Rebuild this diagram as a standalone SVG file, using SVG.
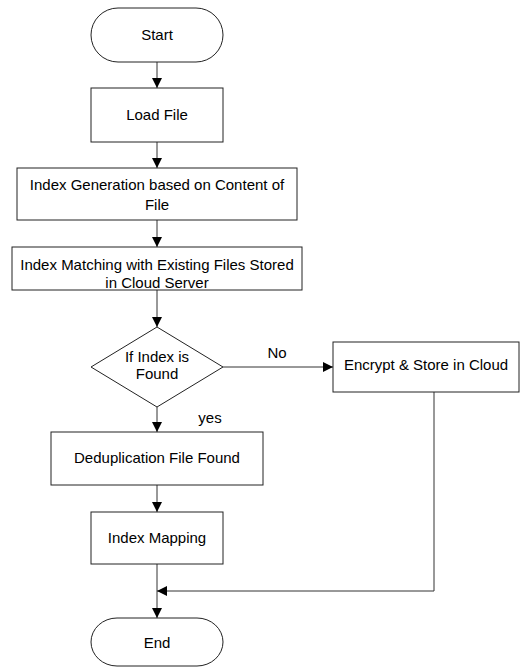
<svg xmlns="http://www.w3.org/2000/svg" width="523" height="668" viewBox="0 0 523 668">
<style>
.n{fill:#fff;stroke:#222;stroke-width:1}
.t{font-family:"Liberation Sans",Arial,sans-serif;font-size:15px;fill:#000;text-anchor:middle}
.c{fill:none;stroke:#333;stroke-width:1}
</style>
<defs>
<marker id="ah" markerWidth="10" markerHeight="10" refX="10" refY="5" orient="auto" markerUnits="userSpaceOnUse">
<path d="M0,0 L10,5 L0,10 Z" fill="#000"/>
</marker>
</defs>
<rect width="523" height="668" fill="#fff"/>
<g id="connectors">
<line class="c" x1="157" y1="62" x2="157" y2="88" marker-end="url(#ah)"/>
<line class="c" x1="157" y1="142" x2="157" y2="168" marker-end="url(#ah)"/>
<line class="c" x1="157" y1="220" x2="157" y2="247" marker-end="url(#ah)"/>
<line class="c" x1="157" y1="290" x2="157" y2="327" marker-end="url(#ah)"/>
<line class="c" x1="223" y1="367" x2="333" y2="367" marker-end="url(#ah)"/>
<line class="c" x1="157" y1="407" x2="157" y2="432" marker-end="url(#ah)"/>
<line class="c" x1="157" y1="485" x2="157" y2="512" marker-end="url(#ah)"/>
<line class="c" x1="157" y1="564" x2="157" y2="618" marker-end="url(#ah)"/>
<polyline class="c" points="434,392 434,591 157,591" marker-end="url(#ah)"/>
<text class="t" x="277" y="358">No</text>
<text class="t" x="210" y="423">yes</text>
</g>
<g id="start"><rect class="n" x="91" y="8" width="132" height="54" rx="27" ry="27"/><text class="t" x="157" y="40">Start</text></g>
<g id="load"><rect class="n" x="91" y="88" width="132" height="54"/><text class="t" x="157" y="120">Load File</text></g>
<g id="indexgen"><rect class="n" x="17" y="168" width="280" height="52"/><text class="t" x="157" y="190">Index Generation based on Content of</text><text class="t" x="157" y="210">File</text></g>
<g id="indexmatch"><rect class="n" x="12" y="247" width="290" height="43"/><text class="t" x="157" y="270">Index Matching with Existing Files Stored</text><text class="t" x="157" y="288">in Cloud Server</text></g>
<g id="decision"><polygon class="n" points="157,327 223,367 157,407 91,367"/><text class="t" x="157" y="362">If Index is</text><text class="t" x="157" y="379">Found</text></g>
<g id="encrypt"><rect class="n" x="333" y="342" width="186" height="50"/><text class="t" x="426" y="370">Encrypt &amp; Store in Cloud</text></g>
<g id="dedup"><rect class="n" x="51" y="432" width="212" height="53"/><text class="t" x="157" y="463">Deduplication File Found</text></g>
<g id="mapping"><rect class="n" x="91" y="512" width="132" height="52"/><text class="t" x="157" y="543">Index Mapping</text></g>
<g id="end"><rect class="n" x="91" y="618" width="132" height="48" rx="26" ry="24"/><text class="t" x="157" y="648">End</text></g>
</svg>
